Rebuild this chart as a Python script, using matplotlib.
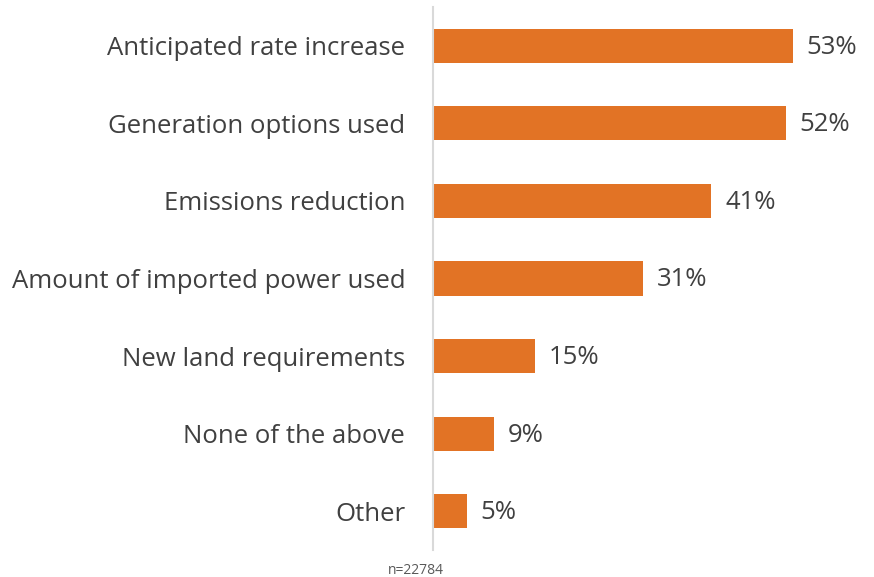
import matplotlib
matplotlib.use("Agg")
import matplotlib.pyplot as plt

categories = ["Anticipated rate increase", "Generation options used", "Emissions reduction",
              "Amount of imported power used", "New land requirements", "None of the above", "Other"]
values = [53, 52, 41, 31, 15, 9, 5]
value_labels = ["53%", "52%", "41%", "31%", "15%", "9%", "5%"]
note = "n=22784"

plt.rcParams['font.family'] = ['Open Sans', 'DejaVu Sans']

fig = plt.figure(figsize=(8.74, 5.77), dpi=100)
ax = fig.add_axes([433/874, 1-550/577, 1-433/874, 543/577])

y = list(range(len(categories)))[::-1]
ax.barh(y, values, height=0.44, color="#E27325")
for yi, v, lab in zip(y, values, value_labels):
    ax.annotate(lab, (v, yi), xytext=(10, -1), textcoords="offset points",
                va="center", ha="left", fontsize=18.5, color="#404040")

ax.set_yticks(y)
ax.set_yticklabels(categories, fontsize=18.5, color="#404040")
ax.tick_params(axis="y", length=0, pad=20)
ax.set_xlim(0, 65)
ax.set_ylim(-0.5, 6.5)
ax.set_xticks([])
for s in ["top", "right", "bottom"]:
    ax.spines[s].set_visible(False)
ax.spines["left"].set_color("#D9D9D9")
ax.spines["left"].set_linewidth(1.5)

fig.text(416/874, 1-570/577, note, fontsize=10, color="#595959", ha="center", va="center")

fig.savefig("out.png", dpi=100)
